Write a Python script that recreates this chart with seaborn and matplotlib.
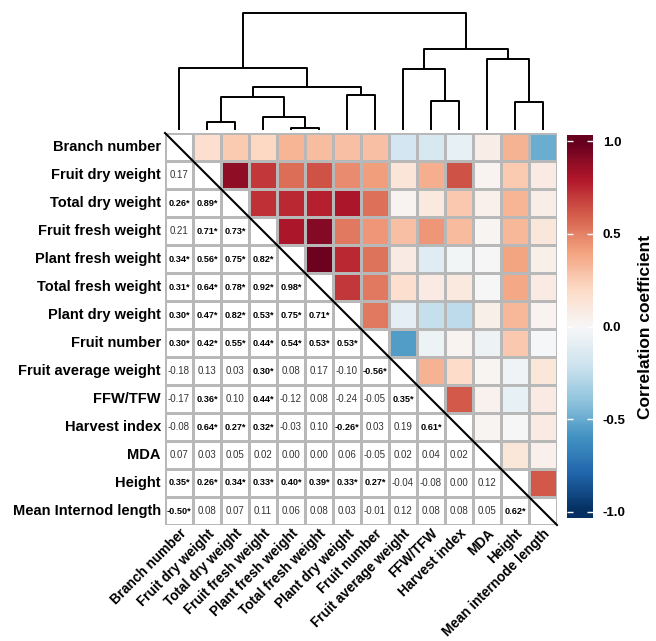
import numpy as np
import pandas as pd
import seaborn as sns
import matplotlib.pyplot as plt
from matplotlib.colors import ListedColormap

plt.rcParams['font.family'] = ['Liberation Sans', 'DejaVu Sans']

# variable names (rows use the original spelling, columns the corrected one)
row_labels = ['Branch number', 'Fruit dry weight', 'Total dry weight', 'Fruit fresh weight',
              'Plant fresh weight', 'Total fresh weight', 'Plant dry weight', 'Fruit number',
              'Fruit average weight', 'FFW/TFW', 'Harvest index', 'MDA', 'Height',
              'Mean Internod length']
col_labels = ['Branch number', 'Fruit dry weight', 'Total dry weight', 'Fruit fresh weight',
              'Plant fresh weight', 'Total fresh weight', 'Plant dry weight', 'Fruit number',
              'Fruit average weight', 'FFW/TFW', 'Harvest index', 'MDA', 'Height',
              'Mean internode length']

# lower triangle of the correlation matrix, row by row
r_lower = [
    [0.17],
    [0.26, 0.89],
    [0.21, 0.71, 0.73],
    [0.34, 0.56, 0.75, 0.82],
    [0.31, 0.64, 0.78, 0.92, 0.98],
    [0.30, 0.47, 0.82, 0.53, 0.75, 0.71],
    [0.30, 0.42, 0.55, 0.44, 0.54, 0.53, 0.53],
    [-0.18, 0.13, 0.03, 0.30, 0.08, 0.17, -0.10, -0.56],
    [-0.17, 0.36, 0.10, 0.44, -0.12, 0.08, -0.24, -0.05, 0.35],
    [-0.08, 0.64, 0.27, 0.32, -0.03, 0.10, -0.26, 0.03, 0.19, 0.61],
    [0.07, 0.03, 0.05, 0.02, 0.00, 0.00, 0.06, -0.05, 0.02, 0.04, 0.02],
    [0.35, 0.26, 0.34, 0.33, 0.40, 0.39, 0.33, 0.27, -0.04, -0.08, 0.00, 0.12],
    [-0.50, 0.08, 0.07, 0.11, 0.06, 0.08, 0.03, -0.01, 0.12, 0.08, 0.08, 0.05, 0.62],
]
# significance flags (1 = marked with *)
sig_lower = [
    [0],
    [1, 1],
    [0, 1, 1],
    [1, 1, 1, 1],
    [1, 1, 1, 1, 1],
    [1, 1, 1, 1, 1, 1],
    [1, 1, 1, 1, 1, 1, 1],
    [0, 0, 0, 1, 0, 0, 0, 1],
    [0, 1, 0, 1, 0, 0, 0, 0, 1],
    [0, 1, 1, 1, 0, 0, 1, 0, 0, 1],
    [0, 0, 0, 0, 0, 0, 0, 0, 0, 0, 0],
    [1, 1, 1, 1, 1, 1, 1, 1, 0, 0, 0, 0],
    [1, 0, 0, 0, 0, 0, 0, 0, 0, 0, 0, 0, 1],
]

# hierarchical clustering merges: (left, right, height); ids >= 14 are earlier merges
links = [
    (4, 5, 2), (1, 2, 8), (3, 14, 13), (12, 13, 28), (9, 10, 29),
    (15, 16, 33), (6, 7, 35), (19, 20, 43), (8, 18, 61), (0, 21, 62),
    (11, 17, 71), (22, 24, 81), (23, 25, 117),
]

n = len(row_labels)
r = np.eye(n)
sig = np.zeros((n, n), dtype=bool)
for i, (vals, flags) in enumerate(zip(r_lower, sig_lower), start=1):
    r[i, :i] = vals
    r[:i, i] = vals
    sig[i, :i] = np.array(flags, dtype=bool)

df = pd.DataFrame(r, index=row_labels, columns=col_labels)

annot = np.empty((n, n), dtype=object)
for i in range(n):
    for j in range(n):
        if j < i:
            annot[i, j] = f'{r[i, j]:.2f}' + ('*' if sig[i, j] else '')
        else:
            annot[i, j] = ''

W, H = 656, 641
fig = plt.figure(figsize=(W / 100, H / 100), dpi=100)

# heatmap area in pixels
hx0, hy0, hsize = 165, 133, 392
ax = fig.add_axes([hx0 / W, 1 - (hy0 + hsize) / H, hsize / W, hsize / H])

# upper triangle: coloured cells
sns.heatmap(df, mask=np.tril(np.ones((n, n), dtype=bool)), cmap='RdBu_r', vmin=-1, vmax=1,
            cbar=False, linewidths=0.6, linecolor='#e4e4e4', ax=ax)
# lower triangle + diagonal: white cells with coefficients
sns.heatmap(df, mask=np.triu(np.ones((n, n), dtype=bool), k=1), cmap=ListedColormap(['white']),
            cbar=False, annot=annot, fmt='', annot_kws=dict(size=7, color='#333333'),
            linewidths=0.8, linecolor='#b8b8b8', ax=ax)
for t in ax.texts:
    if t.get_text().endswith('*'):
        t.set_fontweight('bold')
        t.set_color('black')
        t.set_fontsize(6.6)

ax.plot([0, n], [0, n], color='black', lw=1.5, clip_on=False)

ax.tick_params(axis='y', length=0, pad=3)
ax.tick_params(axis='x', length=0, pad=1)
ax.set_yticklabels(row_labels, rotation=0, fontsize=10.5, fontweight='bold')
ax.set_xticklabels(col_labels, fontsize=9.8, fontweight='bold')
plt.setp(ax.get_xticklabels(), rotation=45, ha='right', va='top', rotation_mode='anchor')
ax.set_xlabel('')
ax.set_ylabel('')

# dendrogram on top
dax = fig.add_axes([hx0 / W, 1 - 130 / H, hsize / W, 120 / H])
pos = {i: i + 0.5 for i in range(n)}
hgt = {i: 0.0 for i in range(n)}
for k, (a, b, h) in enumerate(links, start=n):
    dax.plot([pos[a], pos[a], pos[b], pos[b]], [hgt[a], h, h, hgt[b]],
             color='black', lw=1.4, solid_capstyle='butt')
    pos[k] = (pos[a] + pos[b]) / 2
    hgt[k] = h
dax.set_xlim(0, n)
dax.set_ylim(0, 120)
dax.axis('off')

# colour bar
ext = 1.035
cax = fig.add_axes([567 / W, 1 - 518 / H, 26 / W, 383 / H])
grad = np.linspace(-ext, ext, 256).reshape(-1, 1)
cax.imshow(grad, aspect='auto', cmap='RdBu_r', vmin=-1, vmax=1, origin='lower',
           extent=[0, 1, -ext, ext])
cax.set_xticks([])
cax.set_yticks([-1, -0.5, 0, 0.5, 1])
cax.set_yticklabels(['-1.0', '-0.5', '0.0', '0.5', '1.0'], fontsize=9.5, fontweight='bold')
cax.tick_params(axis='y', direction='in', length=4, width=1, color='white',
                left=True, right=True, labelleft=False, labelright=True, pad=7)
for s in cax.spines.values():
    s.set_visible(False)

fig.text(646 / W, 1 - 327 / H, 'Correlation coefficient', rotation=90, ha='center',
         va='center', fontsize=12.5, fontweight='bold')

fig.savefig('out.png', dpi=100)
